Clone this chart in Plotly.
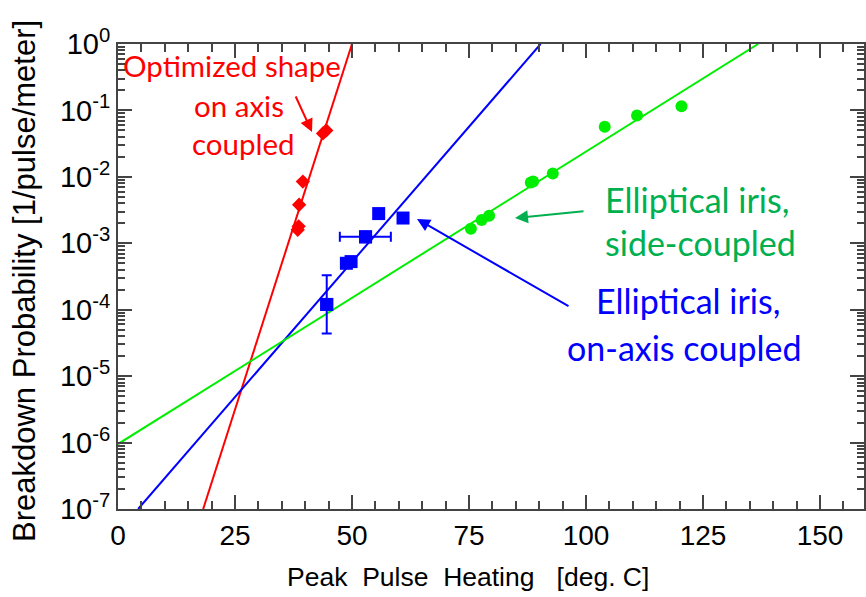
import plotly.graph_objects as go

# ---- data ----
red_x = [43.8, 44.5, 39.5, 38.7, 38.4, 38.6]
red_y = [0.045, 0.050, 0.0085, 0.0038, 0.0016, 0.0018]

blue_x = [44.6, 48.8, 49.8, 52.9, 55.7, 60.9]
blue_y = [1.2e-4, 5.0e-4, 5.3e-4, 1.25e-3, 2.8e-3, 2.4e-3]

blue_err_x = [44.6, 52.9]
blue_err_y = [1.2e-4, 1.25e-3]
blue_err_y_plus = [2.1e-4, 0.0]
blue_err_y_minus = [7.6e-5, 0.0]
blue_err_x_plus = [0.0, 5.4]
blue_err_x_minus = [0.0, 5.5]

green_x = [75.4, 77.7, 79.3, 88.2, 88.7, 92.9, 104.0, 110.9, 120.4]
green_y = [1.65e-3, 2.25e-3, 2.6e-3, 8.2e-3, 8.5e-3, 0.0112, 0.057, 0.084, 0.116]

# fitted trend lines (endpoints)
red_fit_x = [18.2, 50.0]
red_fit_y = [1e-7, 1.0]
blue_fit_x = [4.3, 90.3]
blue_fit_y = [1e-7, 1.0]
green_fit_x = [0.0, 136.8]
green_fit_y = [9.5e-7, 1.0]

x_ticks = [0, 25, 50, 75, 100, 125, 150]
y_tickvals = [1e-7, 1e-6, 1e-5, 1e-4, 1e-3, 1e-2, 1e-1, 1]
y_ticktext = ["10<sup>-7</sup>", "10<sup>-6</sup>", "10<sup>-5</sup>", "10<sup>-4</sup>",
              "10<sup>-3</sup>", "10<sup>-2</sup>", "10<sup>-1</sup>", "10<sup>0</sup>"]

x_title = "Peak  Pulse  Heating   [deg. C]"
y_title = "Breakdown Probability [1/pulse/meter]"

RED = "#FF0000"
BLUE = "#0000FF"
GREEN_LINE = "#00EE00"
GREEN_TXT = "#00B050"

# plot-area geometry in pixels
L, R, T, B = 118, 864, 44, 509
W, H = R - L, B - T

fig = go.Figure()

fig.add_trace(go.Scatter(x=red_fit_x, y=red_fit_y, mode="lines",
                         line=dict(color=RED, width=2), showlegend=False))
fig.add_trace(go.Scatter(x=blue_fit_x, y=blue_fit_y, mode="lines",
                         line=dict(color=BLUE, width=2), showlegend=False))
fig.add_trace(go.Scatter(x=green_fit_x, y=green_fit_y, mode="lines",
                         line=dict(color=GREEN_LINE, width=2), showlegend=False))

fig.add_trace(go.Scatter(x=red_x, y=red_y, mode="markers",
                         marker=dict(symbol="diamond", size=11, color=RED), showlegend=False))
fig.add_trace(go.Scatter(x=blue_x, y=blue_y, mode="markers",
                         marker=dict(symbol="square", size=13, color=BLUE), showlegend=False))
fig.add_trace(go.Scatter(x=blue_err_x, y=blue_err_y, mode="markers",
                         marker=dict(symbol="square", size=13, color=BLUE),
                         error_y=dict(type="data", symmetric=False, array=blue_err_y_plus,
                                      arrayminus=blue_err_y_minus, color=BLUE,
                                      thickness=2, width=5),
                         error_x=dict(type="data", symmetric=False, array=blue_err_x_plus,
                                      arrayminus=blue_err_x_minus, color=BLUE,
                                      thickness=2, width=5),
                         showlegend=False))
fig.add_trace(go.Scatter(x=green_x, y=green_y, mode="markers",
                         marker=dict(symbol="circle", size=12, color=GREEN_LINE), showlegend=False))

TXT_FONT = "Lato, 'Open Sans', sans-serif"
AX_FONT = "'Liberation Sans', Arial, sans-serif"


def px_text(text, px, py, color, size, family=TXT_FONT, angle=0):
    fig.add_annotation(text=text, xref="paper", yref="paper",
                       x=(px - L) / W, y=(B - py) / H,
                       xanchor="center", yanchor="middle", showarrow=False,
                       textangle=angle,
                       font=dict(family=family, size=size, color=color))


px_text("Optimized shape", 232, 65, RED, 29.5)
px_text("on axis", 239, 105, RED, 29.5)
px_text("coupled", 243, 143, RED, 29.5)
px_text("Elliptical iris,", 697, 199, GREEN_TXT, 34)
px_text("side-coupled", 700, 242, GREEN_TXT, 34)
px_text("Elliptical iris,", 688, 300, BLUE, 34)
px_text("on-axis coupled", 684, 347, BLUE, 34)

# axis titles
px_text(x_title, 468, 577, "#000", 26.5, family=AX_FONT)
px_text(y_title, 24, 281, "#000", 31, family=AX_FONT, angle=-90)


def arrow(hx, hy, tx, ty, color):
    fig.add_annotation(xref="paper", yref="paper",
                       x=(hx - L) / W, y=(B - hy) / H,
                       ax=tx - hx, ay=ty - hy, axref="pixel", ayref="pixel",
                       text="", showarrow=True, arrowhead=2, arrowsize=1.3,
                       arrowwidth=2, arrowcolor=color)


arrow(312, 132, 295, 95, RED)
arrow(515, 218, 585, 211, GREEN_TXT)
arrow(417, 219, 570, 307, BLUE)

AX_COL = "#444444"
fig.update_xaxes(range=[0, 159.4], tickvals=x_ticks, ticks="inside", ticklen=14,
                 tickwidth=1.5, tickcolor=AX_COL, showline=True, linecolor=AX_COL,
                 linewidth=2, mirror="ticks", showgrid=False, zeroline=False,
                 automargin=False,
                 minor=dict(tickmode="linear", tick0=0, dtick=5, ticks="inside",
                            ticklen=8, tickcolor=AX_COL, tickwidth=1.5, showgrid=False),
                 tickfont=dict(family=AX_FONT, size=28, color="#000"))
fig.update_yaxes(type="log", range=[-7, 0], tickvals=y_tickvals, ticktext=y_ticktext,
                 ticks="inside", ticklen=14, tickwidth=1.5, tickcolor=AX_COL,
                 showline=True, linecolor=AX_COL, linewidth=2, mirror="ticks",
                 showgrid=False, zeroline=False, automargin=False,
                 minor=dict(tickmode="linear", dtick="D1", ticks="inside", ticklen=7,
                            tickcolor=AX_COL, tickwidth=1.5, showgrid=False),
                 tickfont=dict(family=AX_FONT, size=29, color="#000"))

fig.update_layout(width=866, height=597,
                  margin=dict(l=L, r=866 - R, t=T, b=597 - B, autoexpand=False),
                  plot_bgcolor="white", paper_bgcolor="white", showlegend=False)

fig.write_html("out.html", config={"displayModeBar": False},
               post_script="document.body.style.margin='0';")
